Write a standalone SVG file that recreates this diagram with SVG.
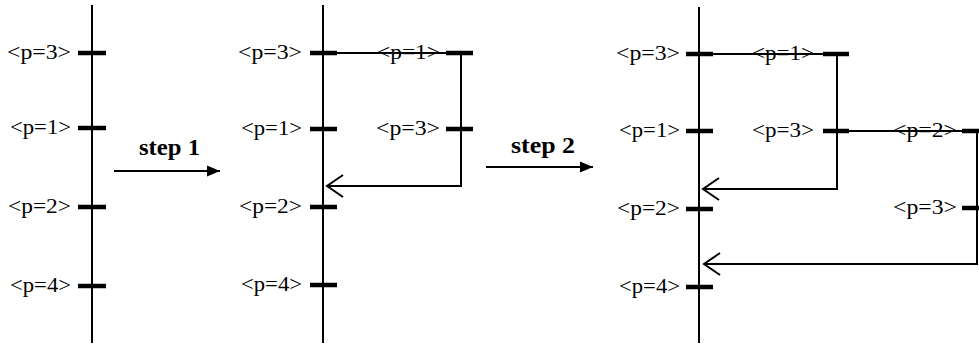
<svg xmlns="http://www.w3.org/2000/svg" width="979" height="347" viewBox="0 0 979 347">
<style>
.axis{stroke:#000;stroke-width:2;fill:none}
.tick{stroke:#000;stroke-width:4.5}
.lbl{font-family:"Liberation Serif","Times New Roman",serif;font-size:20px;fill:#000;text-anchor:end}
.step{font-family:"Liberation Serif","Times New Roman",serif;font-size:23px;font-weight:bold;fill:#000}
.con{stroke:#000;stroke-width:2;fill:none}
</style>
<defs>
<marker id="open" viewBox="-18 -13 20 26" markerWidth="20" markerHeight="26" markerUnits="userSpaceOnUse" refX="0" refY="0" orient="auto" overflow="visible">
<path d="M-16,-11 L0,0 L-16,11" fill="none" stroke="#000" stroke-width="2"/>
</marker>
<marker id="solid" viewBox="-14 -7 15 14" markerWidth="15" markerHeight="14" markerUnits="userSpaceOnUse" refX="0" refY="0" orient="auto" overflow="visible">
<path d="M-13,-5.5 L0,0 L-13,5.5 Z" fill="#000"/>
</marker>
</defs>
<rect width="979" height="347" fill="#fff"/>

<g id="axis1"><line class="axis" x1="92" y1="5" x2="92" y2="343"/></g>
<g id="n1a"><line class="tick" x1="78" y1="53" x2="106" y2="53"/><text class="lbl" x="71" y="59" textLength="64" lengthAdjust="spacingAndGlyphs">&lt;p=3&gt;</text></g>
<g id="n1b"><line class="tick" x1="78" y1="128" x2="106" y2="128"/><text class="lbl" x="71" y="134" textLength="61" lengthAdjust="spacingAndGlyphs">&lt;p=1&gt;</text></g>
<g id="n1c"><line class="tick" x1="78" y1="207" x2="106" y2="207"/><text class="lbl" x="71" y="213" textLength="63" lengthAdjust="spacingAndGlyphs">&lt;p=2&gt;</text></g>
<g id="n1d"><line class="tick" x1="78" y1="286" x2="106" y2="286"/><text class="lbl" x="71" y="292" textLength="61" lengthAdjust="spacingAndGlyphs">&lt;p=4&gt;</text></g>

<g id="step1"><text class="step" x="139" y="155" textLength="61" lengthAdjust="spacingAndGlyphs">step 1</text></g>
<g id="step2"><text class="step" x="511" y="153" textLength="64" lengthAdjust="spacingAndGlyphs">step 2</text></g>

<g id="axis2"><line class="axis" x1="323" y1="5" x2="323" y2="343"/></g>
<g id="n2a"><line class="tick" x1="310" y1="53" x2="337" y2="53"/><text class="lbl" x="302" y="59" textLength="64" lengthAdjust="spacingAndGlyphs">&lt;p=3&gt;</text></g>
<g id="n2b"><line class="tick" x1="310" y1="129" x2="337" y2="129"/><text class="lbl" x="302" y="135" textLength="61" lengthAdjust="spacingAndGlyphs">&lt;p=1&gt;</text></g>
<g id="n2c"><line class="tick" x1="310" y1="207" x2="337" y2="207"/><text class="lbl" x="302" y="213" textLength="63" lengthAdjust="spacingAndGlyphs">&lt;p=2&gt;</text></g>
<g id="n2d"><line class="tick" x1="310" y1="285" x2="337" y2="285"/><text class="lbl" x="302" y="291" textLength="61" lengthAdjust="spacingAndGlyphs">&lt;p=4&gt;</text></g>
<g id="n2e"><line class="tick" x1="446" y1="53" x2="473" y2="53"/><text class="lbl" x="440" y="59" textLength="63" lengthAdjust="spacingAndGlyphs">&lt;p=1&gt;</text></g>
<g id="n2f"><line class="tick" x1="446" y1="129" x2="473" y2="129"/><text class="lbl" x="440" y="135" textLength="64" lengthAdjust="spacingAndGlyphs">&lt;p=3&gt;</text></g>

<g id="axis3"><line class="axis" x1="699" y1="7" x2="699" y2="343"/></g>
<g id="n3a"><line class="tick" x1="686" y1="54" x2="713" y2="54"/><text class="lbl" x="680" y="60" textLength="64" lengthAdjust="spacingAndGlyphs">&lt;p=3&gt;</text></g>
<g id="n3b"><line class="tick" x1="686" y1="131" x2="713" y2="131"/><text class="lbl" x="680" y="137" textLength="61" lengthAdjust="spacingAndGlyphs">&lt;p=1&gt;</text></g>
<g id="n3c"><line class="tick" x1="686" y1="209" x2="713" y2="209"/><text class="lbl" x="680" y="215" textLength="63" lengthAdjust="spacingAndGlyphs">&lt;p=2&gt;</text></g>
<g id="n3d"><line class="tick" x1="686" y1="287" x2="713" y2="287"/><text class="lbl" x="680" y="293" textLength="61" lengthAdjust="spacingAndGlyphs">&lt;p=4&gt;</text></g>
<g id="n3e"><line class="tick" x1="823" y1="54" x2="849" y2="54"/><text class="lbl" x="814" y="60" textLength="62" lengthAdjust="spacingAndGlyphs">&lt;p=1&gt;</text></g>
<g id="n3f"><line class="tick" x1="823" y1="131" x2="849" y2="131"/><text class="lbl" x="814" y="137" textLength="62" lengthAdjust="spacingAndGlyphs">&lt;p=3&gt;</text></g>
<g id="n3g"><line class="tick" x1="962" y1="131" x2="979" y2="131"/><text class="lbl" x="957" y="137" textLength="64" lengthAdjust="spacingAndGlyphs">&lt;p=2&gt;</text></g>
<g id="n3h"><line class="tick" x1="962" y1="208" x2="979" y2="208"/><text class="lbl" x="957" y="214" textLength="64" lengthAdjust="spacingAndGlyphs">&lt;p=3&gt;</text></g>

<g id="connectors">
<path class="con" d="M114,171 H220" marker-end="url(#solid)"/>
<path class="con" d="M486,167 H593" marker-end="url(#solid)"/>
<path class="con" d="M323,53 H461 V186 H327" marker-end="url(#open)"/>
<path class="con" d="M699,54 H837 V189 H703" marker-end="url(#open)"/>
<path class="con" d="M837,131 H977 V264 H704" marker-end="url(#open)"/>
</g>
</svg>
